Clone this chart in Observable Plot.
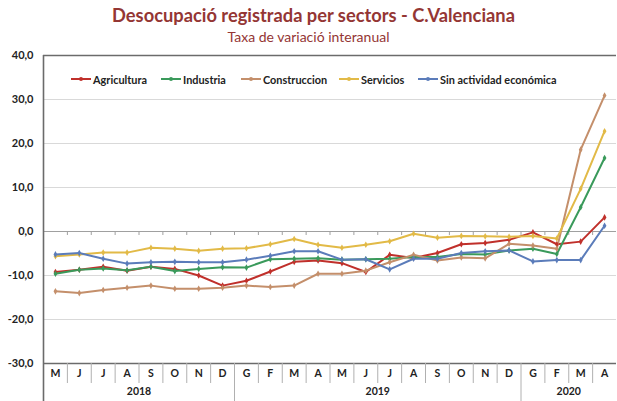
<!DOCTYPE html>
<html><head><meta charset="utf-8">
<script src="https://cdn.jsdelivr.net/npm/d3@7"></script>
<script src="https://cdn.jsdelivr.net/npm/@observablehq/plot@0.6"></script>
<style>
body{margin:0;background:#fff;font-family:Lato,"Open Sans",sans-serif;}
#wrap{position:relative;width:617px;height:401px;overflow:hidden;background:#fff}
#title{position:absolute;left:0;width:627px;top:4px;text-align:center;font-weight:bold;font-size:18.3px;color:#943634;white-space:nowrap}
#sub{position:absolute;left:0;width:617px;top:28px;text-align:center;font-size:14px;color:#943634;white-space:nowrap}
#chart{position:absolute;top:45px;left:0}
#legend{position:absolute;top:72px;left:0;width:617px;height:14px;font-size:10.9px;font-weight:bold;color:#222}
.item{position:absolute;top:0;white-space:nowrap;display:flex;align-items:center;height:14px}
.item svg{margin-right:2px}
</style></head>
<body><div id="wrap">
<div id="title">Desocupació registrada per sectors - C.Valenciana</div>
<div id="sub">Taxa de variació interanual</div>
<div id="chart"></div>
<div id="legend"></div>
</div>
<script>
const months = ["M","J","J","A","S","O","N","D","G","F","M","A","M","J","J","A","S","O","N","D","G","F","M","A"];
const years = ["2018","2019","2020"];
const monthsPerYear = [8,12,4];
const series = ["Agricultura","Industria","Construccion","Servicios","Sin actividad económica"];
const agricultura = [-9.2,-8.7,-8.0,-8.9,-8.0,-8.5,-10.0,-12.3,-11.2,-9.1,-6.9,-6.6,-7.2,-9.2,-5.3,-6.0,-4.9,-2.9,-2.6,-1.9,-0.2,-2.9,-2.3,3.2];
const industria = [-9.6,-8.7,-8.4,-8.8,-8.0,-9.0,-8.5,-8.1,-8.2,-6.3,-6.2,-6.1,-6.4,-6.3,-6.2,-5.8,-5.8,-5.1,-5.2,-4.3,-3.9,-5.1,5.5,16.7];
const construccion = [-13.6,-14.0,-13.3,-12.8,-12.3,-13.0,-13.0,-12.8,-12.3,-12.6,-12.3,-9.6,-9.6,-8.9,-7.0,-5.3,-6.6,-5.9,-6.1,-2.8,-3.2,-3.9,18.6,30.9];
const servicios = [-5.6,-5.2,-4.8,-4.8,-3.7,-3.9,-4.4,-3.9,-3.8,-2.9,-1.7,-3.0,-3.7,-3.0,-2.2,-0.5,-1.4,-1.0,-1.1,-1.2,-1.0,-1.6,9.7,22.8];
const sinActividad = [-5.2,-4.9,-6.2,-7.3,-7.0,-6.9,-7.0,-7.0,-6.4,-5.5,-4.5,-4.5,-6.4,-6.3,-8.6,-6.2,-6.2,-4.9,-4.5,-4.3,-6.8,-6.5,-6.5,1.3];
const yTicks = [-30,-20,-10,0,10,20,30,40];

const values = [agricultura, industria, construccion, servicios, sinActividad];
const colors = ["#c0302b","#3a9a5b","#c48f6b","#e2ba47","#5b7cba"];

const data = [];
series.forEach((s,k)=>values[k].forEach((v,i)=>data.push({s,i,v})));
const monthData = months.map((m,i)=>({m,i}));
let acc = 0;
const yearData = years.map((y,k)=>{const start=acc; acc+=monthsPerYear[k]; return {y, mid:(start+acc-1)/2, end:acc-0.5};});
const yearBounds = yearData.slice(0,-1).map(d=>d.end);
const monthBounds = d3.range(1,months.length).map(i=>i-0.5).filter(b=>!yearBounds.includes(b));
const innerBounds = d3.range(1,months.length).map(i=>i-0.5);
const pxPerUnit = (356-10-38)/70;

const chart = Plot.plot({
  width:617, height:356, marginTop:10, marginBottom:38, marginLeft:43, marginRight:1,
  x:{type:"linear", domain:[-0.5,23.5], axis:null},
  y:{domain:[-30,40]},
  color:{domain:series, range:colors},
  style:{fontFamily:"Lato, 'Open Sans', sans-serif", background:"#fff", overflow:"visible"},
  marks:[
    Plot.ruleY([-20,-10,10,20,30], {stroke:"#d9d9d9", strokeWidth:1.2}),
    Plot.ruleY([0], {stroke:"#a0a0a0", strokeWidth:1.2}),
    Plot.ruleX(innerBounds, {y1:0, y2:-4/pxPerUnit, stroke:"#a0a0a0"}),
    Plot.axisY({ticks:yTicks, tickSize:0, tickPadding:10, tickFormat:d=>d.toFixed(1).replace(".",","), fontWeight:"bold", fontSize:11, label:null, fill:"#222"}),
    Plot.line(data, {x:"i", y:"v", z:"s", stroke:"s", strokeWidth:2, curve:"linear"}),
    Plot.dot(data, {x:"i", y:"v", fill:"s", r:2, symbol:"diamond"}),
    Plot.ruleY([40], {stroke:"#6b6b6b", strokeWidth:1.6}),
    Plot.ruleY([-30], {stroke:"#6b6b6b", strokeWidth:1.6}),
    Plot.ruleX([-0.5], {y1:40, y2:-30-38/pxPerUnit, stroke:"#6b6b6b", strokeWidth:1.6}),
    Plot.ruleX(monthBounds, {y1:-30, y2:-30-20/pxPerUnit, stroke:"#b0b0b0"}),
    Plot.ruleX(yearBounds, {y1:-30, y2:-30-38/pxPerUnit, stroke:"#b0b0b0"}),
    Plot.text(monthData, {x:"i", text:"m", frameAnchor:"bottom", dy:13, fontWeight:"bold", fontSize:10.5, fill:"#222"}),
    Plot.text(yearData, {x:"mid", text:"y", frameAnchor:"bottom", dy:31, fontWeight:"bold", fontSize:10.5, fill:"#222"})
  ]
});
document.getElementById("chart").appendChild(chart);

const legendX = [71,161,241,339,418];
const leg = document.getElementById("legend");
series.forEach((s,k)=>{
  const it = document.createElement("div");
  it.className = "item";
  it.style.left = legendX[k]+"px";
  it.innerHTML = `<svg width="20" height="6"><line x1="0" y1="3" x2="20" y2="3" stroke="${colors[k]}" stroke-width="2"/><circle cx="10" cy="3" r="2" fill="${colors[k]}"/></svg><span>${s}</span>`;
  leg.appendChild(it);
});
</script>
</body></html>
